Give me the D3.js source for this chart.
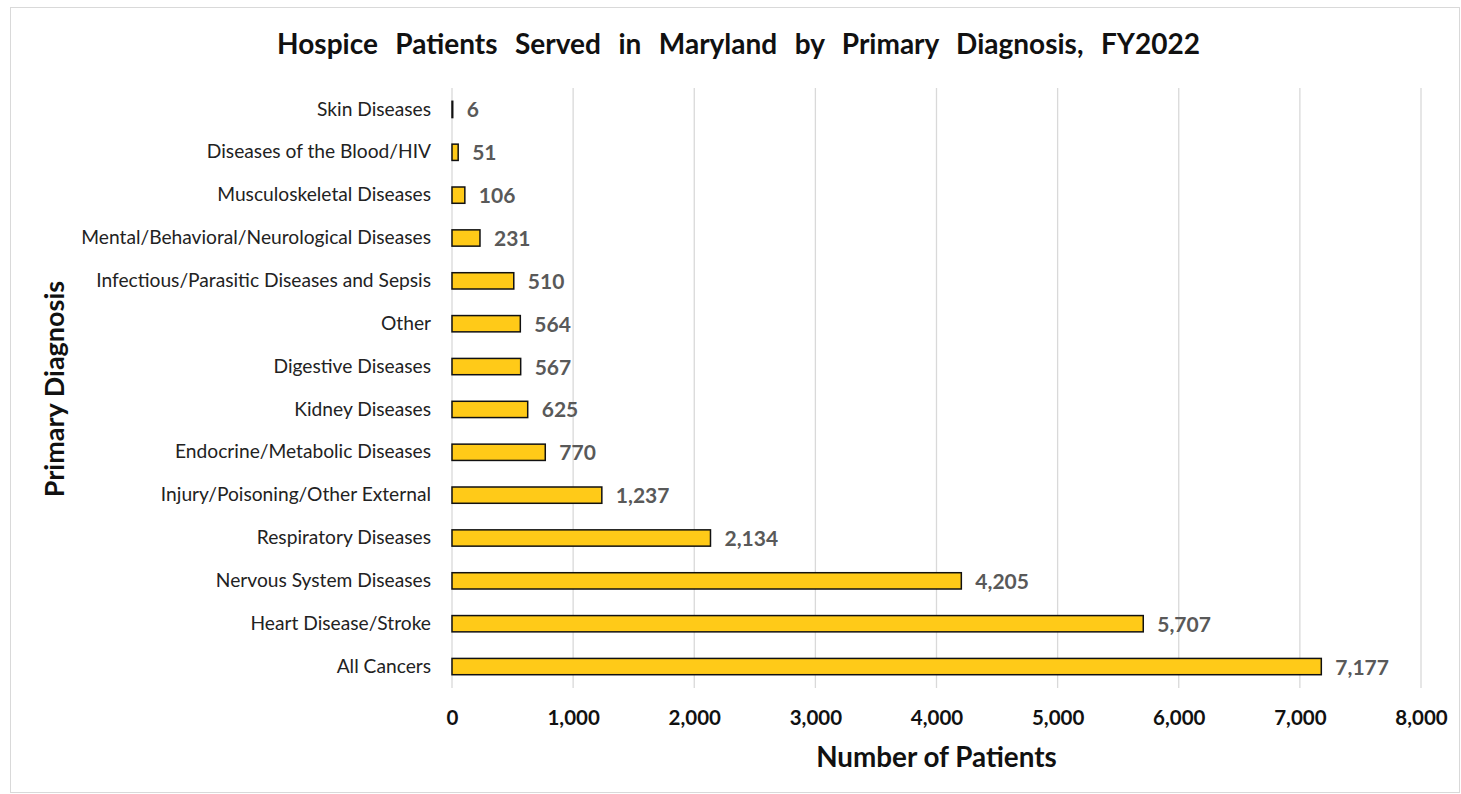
<!DOCTYPE html>
<html>
<head>
<meta charset="utf-8">
<script src="https://cdn.jsdelivr.net/npm/d3@7"></script>
<style>
  body { margin: 0; background: #fff; }
  svg { display: block; font-family: Lato, "Open Sans", sans-serif; }
</style>
</head>
<body>
<svg width="1461" height="794"></svg>
<script>
// ---- data ----
var categories = [
  "Skin Diseases",
  "Diseases of the Blood/HIV",
  "Musculoskeletal Diseases",
  "Mental/Behavioral/Neurological Diseases",
  "Infectious/Parasitic Diseases and Sepsis",
  "Other",
  "Digestive Diseases",
  "Kidney Diseases",
  "Endocrine/Metabolic Diseases",
  "Injury/Poisoning/Other External",
  "Respiratory Diseases",
  "Nervous System Diseases",
  "Heart Disease/Stroke",
  "All Cancers"
];
var patients = [6, 51, 106, 231, 510, 564, 567, 625, 770, 1237, 2134, 4205, 5707, 7177];
var xTicks = [0, 1000, 2000, 3000, 4000, 5000, 6000, 7000, 8000];

var svg = d3.select("svg"),
    width = +svg.attr("width"),
    height = +svg.attr("height");

// outer frame
svg.append("rect")
    .attr("x", 10.5).attr("y", 7.5)
    .attr("width", width - 12).attr("height", height - 9)
    .attr("fill", "none").attr("stroke", "#d9d9d9");

var plotLeft = 452, plotRight = 1421, plotTop = 88, plotBottom = 688;

var x = d3.scaleLinear().domain([0, 8000]).range([plotLeft, plotRight]);
var y = d3.scaleBand().domain(categories).range([plotTop, plotBottom]).paddingInner(0.62).paddingOuter(0.31);

// gridlines
svg.append("g").selectAll("line")
    .data(xTicks)
    .enter().append("line")
    .attr("x1", function (d) { return x(d); })
    .attr("x2", function (d) { return x(d); })
    .attr("y1", plotTop).attr("y2", plotBottom)
    .attr("stroke", "#d9d9d9").attr("stroke-width", 1.3);

// bars
svg.append("g").selectAll("rect")
    .data(patients)
    .enter().append("rect")
    .attr("x", x(0))
    .attr("y", function (d, i) { return y(categories[i]); })
    .attr("width", function (d) { return x(d) - x(0); })
    .attr("height", y.bandwidth())
    .attr("fill", "#ffca18")
    .attr("stroke", "#111").attr("stroke-width", 1.5);

// value labels
svg.append("g").selectAll("text")
    .data(patients)
    .enter().append("text")
    .attr("x", function (d) { return x(d) + 14; })
    .attr("y", function (d, i) { return y(categories[i]) + y.bandwidth() / 2; })
    .attr("dy", "0.38em")
    .attr("font-size", 21).attr("font-weight", "bold").attr("fill", "#595959")
    .text(function (d) { return d3.format(",")(d); });

// category axis
var yAxis = svg.append("g")
    .attr("transform", "translate(" + plotLeft + ",0)")
    .call(d3.axisLeft(y).tickSize(0).tickPadding(21));
yAxis.select(".domain").remove();
yAxis.selectAll("text")
    .attr("font-family", "Lato, 'Open Sans', sans-serif")
    .attr("font-size", 19.2).attr("fill", "#222");

// value axis
var xAxis = svg.append("g")
    .attr("transform", "translate(0," + plotBottom + ")")
    .call(d3.axisBottom(x).tickValues(xTicks).tickFormat(d3.format(",")).tickSize(0).tickPadding(22));
xAxis.select(".domain").remove();
xAxis.selectAll("text")
    .attr("font-family", "Lato, 'Open Sans', sans-serif")
    .attr("font-size", 20.5).attr("font-weight", "bold").attr("fill", "#111");

// titles
svg.append("text")
    .attr("x", 738.5).attr("y", 54)
    .attr("text-anchor", "middle")
    .attr("font-size", 28).attr("font-weight", "bold").attr("fill", "#111")
    .attr("word-spacing", 10.7)
    .text("Hospice Patients Served in Maryland by Primary Diagnosis, FY2022");

svg.append("text")
    .attr("x", (plotLeft + plotRight) / 2).attr("y", 767)
    .attr("text-anchor", "middle")
    .attr("font-size", 27.8).attr("font-weight", "bold").attr("fill", "#111")
    .text("Number of Patients");

svg.append("text")
    .attr("transform", "translate(64,389) rotate(-90)")
    .attr("text-anchor", "middle")
    .attr("font-size", 27).attr("font-weight", "bold").attr("fill", "#111")
    .text("Primary Diagnosis");
</script>
</body>
</html>
